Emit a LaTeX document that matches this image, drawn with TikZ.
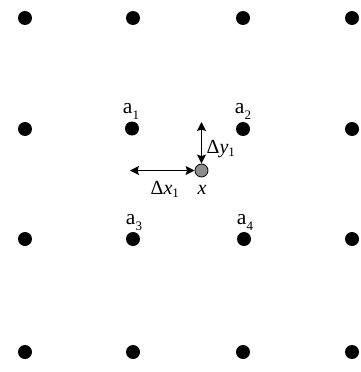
\documentclass[tikz,border=0pt]{standalone}
\usepackage{fontspec}
\setmainfont{Liberation Serif}
\usetikzlibrary{arrows.meta}
\newcommand\lowsub[2]{\raisebox{-#1}{\fontsize{13}{13}\selectfont #2}}
\tikzset{
  gdot/.style={circle,fill=black,inner sep=0pt,minimum size=14pt},
  pdot/.style={circle,draw=black,line width=0.8pt,fill=black!45,inner sep=0pt,minimum size=13pt},
  lbl/.style={inner sep=0pt,font=\fontsize{20}{22}\selectfont},
  albl/.style={inner sep=0pt,font=\fontsize{21.5}{24}\selectfont,anchor=base},
  dbl/.style={line width=1.4pt,{Stealth[length=9pt,width=9pt,inset=1.5pt]}-{Stealth[length=9pt,width=9pt,inset=1.5pt]}}
}
\begin{document}
\begin{tikzpicture}[x=1pt,y=-1pt]
\useasboundingbox (0,0) rectangle (360,372);
% grid of dots
\node[gdot] (d11) at (25,18) {};
\node[gdot] (d12) at (133,18) {};
\node[gdot] (d13) at (243,18) {};
\node[gdot] (d14) at (352,18) {};
\node[gdot] (d21) at (25,129) {};
\node[gdot] (a1) at (132,128.5) {};
\node[gdot] (a2) at (243,129) {};
\node[gdot] (d24) at (352,129) {};
\node[gdot] (d31) at (25,239) {};
\node[gdot] (a3) at (133,239) {};
\node[gdot] (a4) at (244,239) {};
\node[gdot] (d34) at (352,239) {};
\node[gdot] (d41) at (25,352) {};
\node[gdot] (d42) at (133,352) {};
\node[gdot] (d43) at (243,352) {};
\node[gdot] (d44) at (352,352) {};
% labels of a's
\node[albl] (la1) at (131,113) {a\lowsub{6pt}{1}};
\node[albl] (la2) at (243,113) {a\lowsub{6pt}{2}};
\node[albl] (la3) at (134,224) {a\lowsub{6pt}{3}};
\node[albl] (la4) at (245,224) {a\lowsub{6pt}{4}};
% the point x
\node[pdot] (x) at (201.5,170.5) {};
\coordinate (hl) at (130,170.5);
\coordinate (vt) at (201.5,122);
\draw[dbl] (hl) -- (x.west);
\draw[dbl] (vt) -- (x.north);
\node[lbl,anchor=base west] (ldy) at (206.5,153.5) {Δ\textit{y}\lowsub{3pt}{1}};
\node[lbl,anchor=base west] (ldx) at (150.5,194.5) {Δ\textit{x}\lowsub{3pt}{1}};
\node[lbl,anchor=base] (lx) at (202,194.5) {\textit{x}};
\end{tikzpicture}
\end{document}
